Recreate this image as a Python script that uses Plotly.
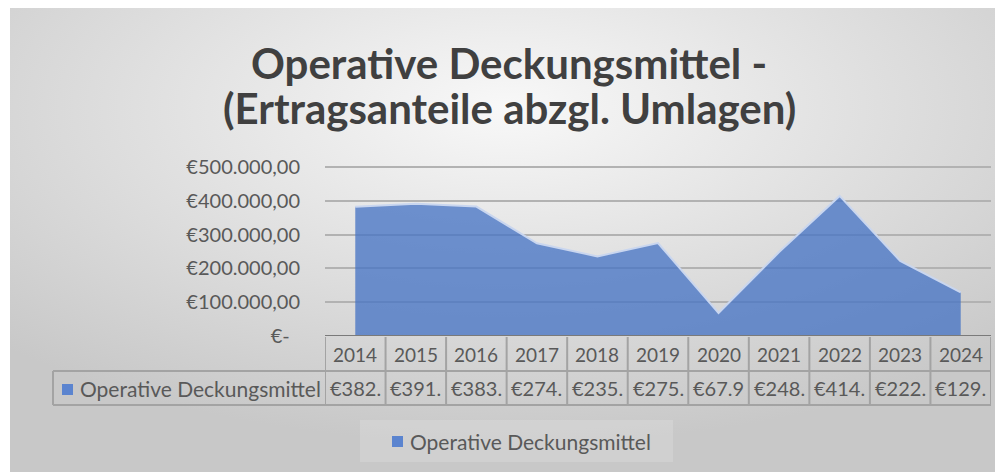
import base64
import plotly.graph_objects as go

# ---------------- data ----------------
years = [2014, 2015, 2016, 2017, 2018, 2019, 2020, 2021, 2022, 2023, 2024]
values = [382400, 391200, 383100, 274300, 235600, 275200, 67900, 248300, 414500, 222100, 129400]
series_name = "Operative Deckungsmittel"
y_ticks = [0, 100000, 200000, 300000, 400000, 500000]
title_lines = ["Operative Deckungsmittel -", "(Ertragsanteile abzgl. Umlagen)"]


def eur(v):
    if v == 0:
        return "€-\u00a0\u00a0"
    s = f"{v:,.2f}".replace(",", "X").replace(".", ",").replace("X", ".")
    return "€" + s


# ---------------- geometry (reference pixels) ----------------
W, H = 1003, 472
OFF = 8  # page body margin of the html page
L, R, T, B = 325, 991, 165, 336
FONT = "Lato"
TXT = "#595959"
GRID = "#b2b2b2"
BORDER = "#a3a3a3"
Y_MAX = 506000  # axis top a little above the last gridline


def px(x):
    return (x - L) / (R - L)


def py(y):
    return (B - y) / (B - T)


fig = go.Figure()
xs = list(range(len(years)))
fig.add_trace(go.Scatter(
    x=xs, y=values, mode="lines", fill="tozeroy",
    line=dict(color="#c9d6ef", width=2),
    fillcolor="rgba(68,114,196,0.76)",
    showlegend=False, hoverinfo="skip",
))

# background gradient as svg image
svg = ('<svg xmlns="http://www.w3.org/2000/svg" width="993" height="466" viewBox="0 0 993 466" '
       'preserveAspectRatio="none"><defs><radialGradient id="g" cx="0.5" cy="0.22" r="0.72">'
       '<stop offset="0" stop-color="#f8f8f8"/><stop offset="1" stop-color="#c8c8c8"/>'
       '</radialGradient></defs><rect width="993" height="466" fill="url(#g)"/></svg>')
src = "data:image/svg+xml;base64," + base64.b64encode(svg.encode()).decode()

shapes = []
# legend box highlight
shapes.append(dict(type="rect", xref="paper", yref="paper", x0=px(360), x1=px(673), y0=py(420), y1=py(462),
                   fillcolor="rgba(255,255,255,0.15)", line=dict(width=0), layer="below"))
# table
n = len(years)
for i in range(n + 1):
    shapes.append(dict(type="line", xref="x", yref="paper", x0=i - 0.5, x1=i - 0.5, y0=py(337), y1=py(405),
                       line=dict(color=BORDER, width=2)))
for yy in (371, 405):
    shapes.append(dict(type="line", xref="paper", yref="paper", x0=px(53), x1=px(R), y0=py(yy), y1=py(yy),
                       line=dict(color=BORDER, width=2)))
shapes.append(dict(type="line", xref="paper", yref="paper", x0=px(53), x1=px(53), y0=py(371), y1=py(405),
                   line=dict(color=BORDER, width=2)))
# axis baseline
shapes.append(dict(type="line", xref="x", yref="y", x0=-0.5, x1=n - 0.5, y0=0, y1=0,
                   line=dict(color="#7a7a7a", width=2)))
# legend keys
for (x0, y0) in ((62, 384), (392, 436)):
    shapes.append(dict(type="rect", xref="paper", yref="paper", x0=px(x0), x1=px(x0 + 11), y0=py(y0 + 11), y1=py(y0),
                       fillcolor="#5b84cf", line=dict(width=0)))


def ann(x, y, text, size, xref="paper", xanchor="center", color=TXT):
    return dict(x=x, y=y, xref=xref, yref="paper", text=text, showarrow=False,
                xanchor=xanchor, yanchor="middle", font=dict(family=FONT, size=size, color=color))


annotations = []
for i, (yr, v) in enumerate(zip(years, values)):
    annotations.append(ann(i, py(354), str(yr), 19, xref="x"))
    annotations.append(ann(i, py(388), eur(v)[:5], 20, xref="x"))
annotations.append(ann(px(78), py(388), series_name, 21, xanchor="left"))
annotations.append(ann(px(408), py(441), series_name, 21, xanchor="left"))
for line, yy in zip(title_lines, (63, 108)):
    annotations.append(ann(px(509), py(yy), "<b>" + line + "</b>", 42, color="#404040"))

fig.update_layout(
    width=W - OFF, height=H - OFF,
    margin=dict(l=L - OFF, r=W - R, t=T - OFF, b=H - B, pad=0),
    paper_bgcolor="white", plot_bgcolor="rgba(0,0,0,0)",
    showlegend=False,
    xaxis=dict(range=[-0.5, n - 0.5], showticklabels=False, showgrid=False, zeroline=False, fixedrange=True),
    yaxis=dict(range=[0, Y_MAX], tickvals=y_ticks, ticktext=[eur(v) for v in y_ticks],
               showgrid=True, gridcolor=GRID, gridwidth=1.5, zeroline=False, showline=False,
               ticks="", ticklabelstandoff=24, tickfont=dict(family=FONT, size=20, color=TXT), fixedrange=True),
    images=[dict(source=src, xref="paper", yref="paper", x=px(10), y=py(6), sizex=(W - 10) / (R - L),
                 sizey=(H - 6) / (B - T), xanchor="left", yanchor="top", sizing="stretch", layer="below")],
    shapes=shapes, annotations=annotations,
)

fig.write_html("out.html")
